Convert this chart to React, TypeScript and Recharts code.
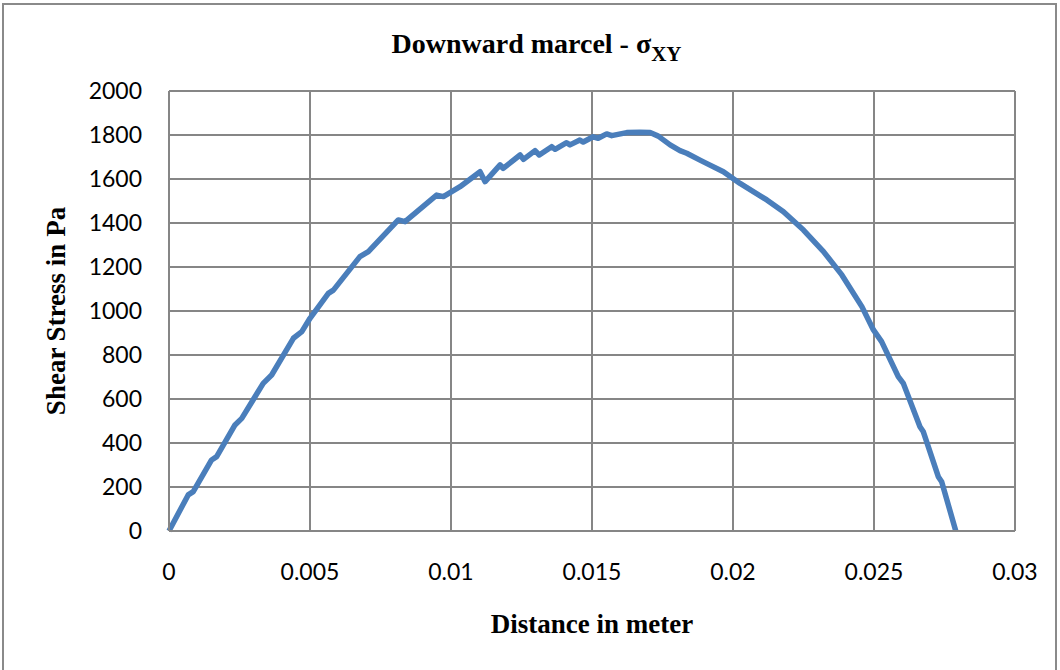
import React from 'react';
import { LineChart, Line, XAxis, YAxis, CartesianGrid } from 'recharts';

const distance = [
  0, 0.00068, 0.00086, 0.00151, 0.00169, 0.00234, 0.00258, 0.00334, 0.00364, 0.00441,
  0.00471, 0.005, 0.00565, 0.00583, 0.00677, 0.00707, 0.00813, 0.00837, 0.00949, 0.00973,
  0.01032, 0.01103, 0.01121, 0.01174, 0.01185, 0.01245, 0.01257, 0.01298, 0.01313, 0.01357,
  0.01369, 0.0141, 0.01422, 0.01457, 0.01469, 0.01504, 0.01522, 0.01552, 0.0157, 0.01623,
  0.0167, 0.01706, 0.01735, 0.01777, 0.01812, 0.01836, 0.01883, 0.01906, 0.01966, 0.02025,
  0.0212, 0.02179, 0.0225, 0.02321, 0.02386, 0.02457, 0.02498, 0.02527, 0.02586, 0.02604,
  0.02663, 0.02675, 0.02728, 0.0274, 0.0279,
];
const shearStress = [
  0, 164, 179, 323, 338, 482, 512, 671, 709, 876,
  906, 967, 1080, 1095, 1247, 1270, 1414, 1406, 1527, 1520,
  1565, 1633, 1588, 1664, 1648, 1709, 1689, 1729, 1709, 1747,
  1735, 1765, 1755, 1777, 1768, 1792, 1785, 1805, 1797, 1811,
  1812, 1811, 1795, 1755, 1729, 1717, 1686, 1671, 1633, 1580,
  1505, 1451, 1368, 1270, 1164, 1020, 914, 861, 702, 671,
  474, 451, 247, 224, 0,
];
const xTicks = [0, 0.005, 0.01, 0.015, 0.02, 0.025, 0.03];
const yTicks = [0, 200, 400, 600, 800, 1000, 1200, 1400, 1600, 1800, 2000];

const data = distance.map((d, i) => ({ x: d, y: shearStress[i] }));

const serif = '"Liberation Serif", "Times New Roman", serif';
const tickFont = { fontFamily: 'Lato, "Open Sans", sans-serif', fontSize: 23, fill: '#000' };

export default function App() {
  return (
    <div style={{ position: 'absolute', left: 0, top: 0, width: 1060, height: 670, background: '#fff', overflow: 'hidden' }}>
      <div style={{ position: 'absolute', left: 2, top: 3, width: 1055, height: 700, border: '2px solid #8a8a8a', boxSizing: 'border-box' }} />
      <LineChart
        width={1060}
        height={670}
        data={data}
        margin={{ top: 91, right: 45, bottom: 70, left: 99 }}
      >
        <CartesianGrid stroke="#868686" strokeWidth={2} />
        <XAxis
          dataKey="x"
          type="number"
          domain={[0, 0.03]}
          ticks={xTicks}
          tickFormatter={(v: number) => String(v)}
          tick={tickFont}
          tickLine={false}
          tickSize={0}
          tickMargin={33}
          axisLine={{ stroke: '#868686', strokeWidth: 2 }}
          height={69}
          interval={0}
        />
        <YAxis
          type="number"
          domain={[0, 2000]}
          ticks={yTicks}
          tick={tickFont}
          tickLine={false}
          tickSize={0}
          tickMargin={27}
          axisLine={{ stroke: '#868686', strokeWidth: 2 }}
          width={70}
          interval={0}
        />
        <Line
          type="linear"
          dataKey="y"
          stroke="#4a7ebb"
          strokeWidth={5.5}
          strokeLinejoin="round"
          dot={false}
          isAnimationActive={false}
        />
      </LineChart>
      <svg width={1060} height={670} style={{ position: 'absolute', left: 0, top: 0, pointerEvents: 'none' }}>
        <text x={536.5} y={53} textAnchor="middle" fontFamily={serif} fontWeight="bold" fontSize={28} fill="#000">
          Downward marcel - σ<tspan fontSize={21} dy={8}>XY</tspan>
        </text>
        <text x={592} y={633} textAnchor="middle" fontFamily={serif} fontWeight="bold" fontSize={27} fill="#000">
          Distance in meter
        </text>
        <text transform="translate(65,311) rotate(-90)" x={0} y={0} textAnchor="middle" fontFamily={serif} fontWeight="bold" fontSize={27} fill="#000">
          Shear Stress in Pa
        </text>
      </svg>
    </div>
  );
}
